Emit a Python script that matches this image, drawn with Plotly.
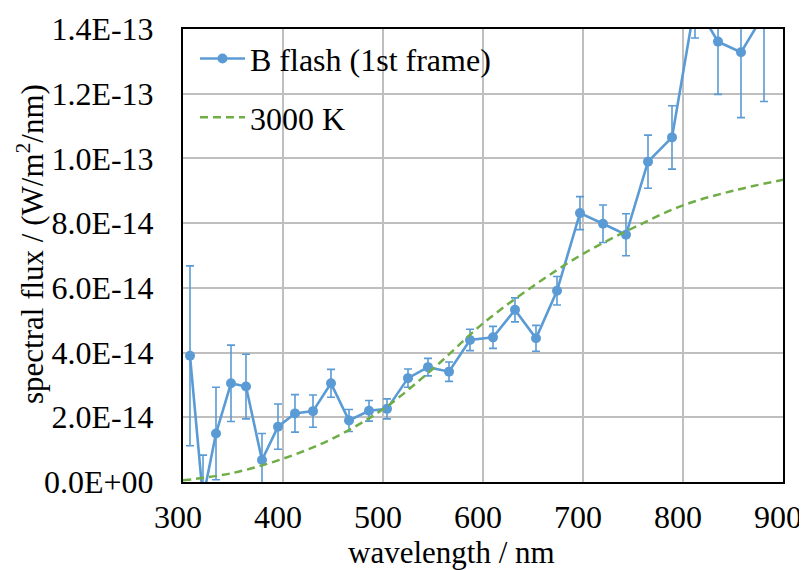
import plotly.graph_objects as go

# ---- data (flux in units of 1E-14 W/m^2/nm) ----
wavelength = [307, 320, 333, 348, 363, 379, 395, 412, 430, 448, 466, 486, 504, 525, 545,
              566, 587, 610, 632, 653, 674, 697, 720, 743, 765, 789, 812, 835, 858, 881]
flux_e14 = [3.90, -0.50, 1.50, 3.05, 2.95, 0.68, 1.71, 2.12, 2.19, 3.05, 1.90, 2.20, 2.26, 3.21, 3.55,
            3.41, 4.39, 4.47, 5.32, 4.44, 5.91, 8.31, 7.98, 7.64, 9.90, 10.65, 14.80, 13.61, 13.28, 14.46]
err_e14 = [2.78, 1.33, 1.43, 1.18, 1.00, 0.82, 0.70, 0.58, 0.50, 0.43, 0.34, 0.32, 0.31, 0.28, 0.27,
           0.30, 0.33, 0.34, 0.37, 0.40, 0.44, 0.51, 0.58, 0.65, 0.82, 0.98, 1.08, 1.63, 2.02, 2.70]

bb_wavelength = [300, 350, 400, 450, 500, 550, 600, 650, 700, 750, 800, 850, 900]
bb_flux_e14 = [0.05, 0.28, 0.72, 1.35, 2.25, 3.50, 4.90, 6.05, 7.05, 7.85, 8.55, 9.00, 9.34]

ytick_vals_e14 = [0, 2, 4, 6, 8, 10, 12, 14]
ytick_text = ["0.0E+00", "2.0E-14", "4.0E-14", "6.0E-14", "8.0E-14", "1.0E-13", "1.2E-13", "1.4E-13"]
xtick_vals = [300, 400, 500, 600, 700, 800, 900]

series_name = "B flash (1st frame)"
bb_name = "3000 K"

S = 1e-14
flux = [v * S for v in flux_e14]
err = [v * S for v in err_e14]
bb_flux = [v * S for v in bb_flux_e14]
ytick_vals = [v * S for v in ytick_vals_e14]

BLUE = "#5B9BD5"
GREEN = "#70AD47"
FONT = "Liberation Serif, Times New Roman, serif"

# the page body adds an 8 px offset, so the figure is 8 px smaller each way
W, H = 799, 562
L, R, T, B = 175, 24, 21, 88
PW, PH = W - L - R, H - T - B   # 600 x 453


def px_x(px):  # page x -> paper fraction
    return (px - 8 - L) / PW


def px_y(py):  # page y -> paper fraction
    return (H - B - (py - 8)) / PH


fig = go.Figure()
fig.add_trace(go.Scatter(
    x=wavelength, y=flux, name=series_name, mode="lines+markers",
    line=dict(color=BLUE, width=2.6),
    marker=dict(color=BLUE, size=10),
    error_y=dict(type="data", array=err, visible=True, color=BLUE, thickness=1.6, width=4),
    legendgroup="a",
))
fig.add_trace(go.Scatter(
    x=bb_wavelength, y=bb_flux, name=bb_name, mode="lines",
    line=dict(color=GREEN, width=2.5, dash="8px,5px", shape="spline"),
    legendgroup="b",
))

fig.update_layout(
    width=W, height=H,
    margin=dict(l=L, r=R, t=T, b=B, autoexpand=False),
    paper_bgcolor="white", plot_bgcolor="white",
    font=dict(family=FONT, size=32, color="black"),
    showlegend=True,
    legend=dict(x=0.02, y=0.995, xanchor="left", yanchor="top",
                bgcolor="rgba(0,0,0,0)", font=dict(family=FONT, size=32, color="black"),
                traceorder="grouped", tracegroupgap=14, itemwidth=45),
    xaxis=dict(range=[300, 900], tickvals=xtick_vals, showgrid=True, gridcolor="#BFBFBF", gridwidth=2,
               showline=True, linecolor="black", linewidth=2, mirror=True, zeroline=False,
               automargin=False, ticks="", ticklabelstandoff=6, ticklabelshift=-5,
               ticklabeloverflow="allow", tickfont=dict(family=FONT, size=32)),
    yaxis=dict(range=[0, 1.4e-13], tickvals=ytick_vals, ticktext=ytick_text, showgrid=True,
               gridcolor="#BFBFBF", gridwidth=2, showline=True, linecolor="black", linewidth=2,
               mirror=True, zeroline=False, automargin=False, ticks="", ticklabelstandoff=21,
               tickfont=dict(family=FONT, size=32)),
    annotations=[
        dict(text="wavelength / nm", xref="paper", yref="paper", x=px_x(451), y=px_y(533),
             xanchor="center", yanchor="top", showarrow=False, font=dict(family=FONT, size=31)),
        dict(text="spectral flux / (W/m<sup>2</sup>/nm)", xref="paper", yref="paper",
             x=px_x(30), y=px_y(244), xanchor="center", yanchor="middle",
             textangle=-90, showarrow=False, font=dict(family=FONT, size=31)),
    ],
)

fig.write_html("out.html")
